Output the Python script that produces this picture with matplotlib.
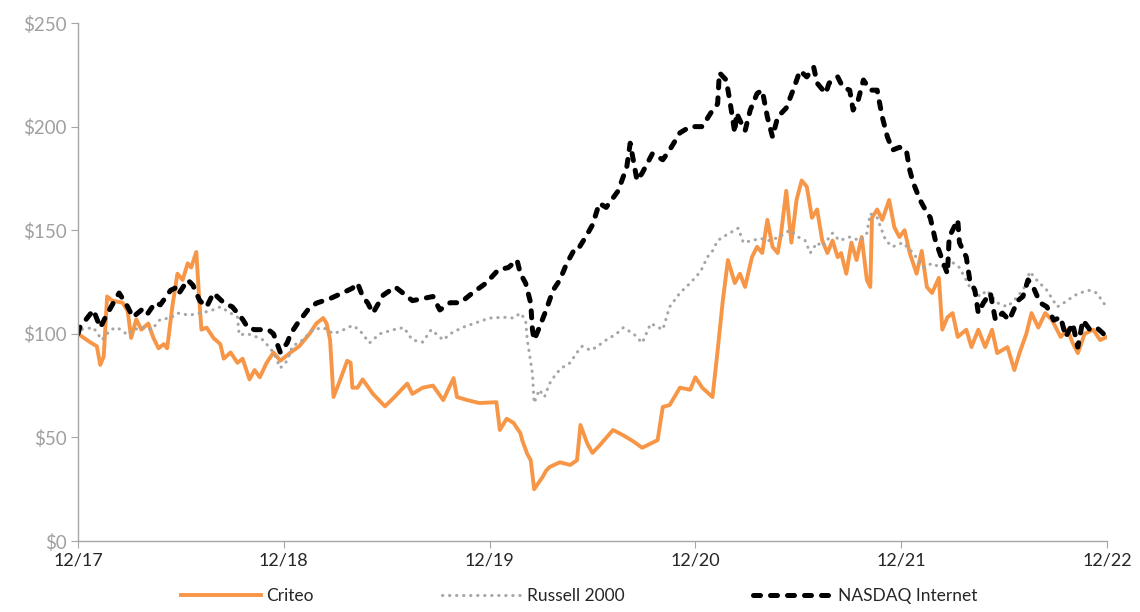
import matplotlib.pyplot as plt

plt.rcParams['font.family'] = ['Lato', 'DejaVu Sans']

# months since 12/17, indexed value ($100 invested)
criteo_m = [0.0, 0.7, 1.1, 1.3, 1.5, 1.7, 2.0, 2.6, 2.9, 3.1, 3.4, 3.7, 4.1, 4.4, 4.7, 5.0, 5.2, 5.5,
            5.8, 6.1, 6.4, 6.6, 6.9, 7.06, 7.2, 7.5, 7.9, 8.3, 8.5, 8.9, 9.3, 9.6, 10.0, 10.3, 10.6,
            11.0, 11.4, 11.8, 12.4, 12.9, 13.5, 13.9, 14.3, 14.5, 14.7, 14.9, 15.3, 15.7, 15.9, 16.0,
            16.3, 16.6, 17.2, 17.9, 18.4, 19.2, 19.5, 20.1, 20.7, 21.3, 21.9, 22.1, 22.7, 23.4, 24.4,
            24.6, 25.0, 25.4, 25.8, 25.9, 26.2, 26.4, 26.6, 27.1, 27.3, 27.5, 28.1, 28.7, 29.1, 29.3,
            29.7, 30.0, 30.4, 31.2, 31.8, 32.4, 32.9, 33.8, 34.1, 34.5, 35.1, 35.7, 36.0, 36.4, 37.0,
            37.3, 37.6, 37.9, 38.3, 38.6, 38.9, 39.3, 39.6, 39.9, 40.2, 40.5, 40.8, 41.0, 41.3, 41.6,
            41.9, 42.2, 42.5, 42.8, 43.1, 43.4, 43.7, 44.0, 44.3, 44.5, 44.8, 45.1, 45.4, 45.7, 46.0,
            46.2, 46.3, 46.6, 46.9, 47.3, 47.6, 47.9, 48.2, 48.5, 48.9, 49.2, 49.5, 49.8, 50.2, 50.4,
            50.7, 51.0, 51.3, 51.8, 52.1, 52.5, 52.9, 53.3, 53.6, 54.2, 54.6, 54.9, 55.3, 55.6, 56.0,
            56.4, 56.8, 57.3, 57.7, 58.0, 58.3, 58.7, 59.2, 59.6, 60.0]
criteo_v = [100, 96, 94, 85, 89, 118, 116, 115, 111, 98, 107, 102, 105, 98, 93, 95, 93, 113,
            129, 126, 134, 132, 139.5, 118, 102, 103, 98, 95, 88, 91, 86, 88, 78, 82.5, 79,
            86, 91, 87, 91, 94, 100, 105, 107.6, 105, 97, 69.5, 78, 87, 86, 74,
            74, 78, 71, 65, 69, 76, 71, 74, 75, 68, 78.6, 69.5, 68, 66.6, 67,
            53.6, 59, 57, 52, 48.7, 42, 39, 25, 31, 34, 35.7, 38, 36.7, 39, 56,
            47, 42.5, 46, 53.6, 51, 48, 45, 48.7, 64.7, 65.6, 74, 73, 79, 74, 69.5,
            92, 116, 135.6, 124.5, 129, 122.6, 137, 142, 139, 155, 142, 139, 148.6, 169, 144,
            164.6, 174, 171, 156, 160, 145, 139, 145, 137, 139, 129, 144, 135.6, 146.7, 126,
            122.6, 156, 160, 155, 164.6, 151.5, 146.7, 150, 139, 129, 140, 122.6, 119.7, 127, 102,
            108, 110, 98.5, 102, 93.6, 102, 93.6, 102, 90.7, 93.6, 82.5, 90.7, 100, 110, 103,
            110, 106.6, 98.5, 102, 95.6, 90.7, 100, 102, 97, 98.5]

russell_m = [0.0, 0.1, 0.9, 1.4, 1.9, 2.3, 2.9, 3.2, 3.8, 4.3, 4.8, 5.4, 5.8, 6.5, 7.1, 7.7, 8.3,
             8.7, 9.3, 9.4, 9.9, 10.4, 10.8, 11.4, 11.8, 12.2, 12.5, 13.1, 13.7, 14.3, 14.9, 15.5,
             16.0, 16.4, 17.0, 17.6, 18.4, 19.0, 19.5, 20.1, 20.6, 21.3, 21.7, 22.4, 23.3, 24.0,
             24.8, 25.4, 25.8, 26.1, 26.2, 26.5, 26.6, 26.9, 27.2, 27.5, 27.9, 28.3, 28.7, 29.1,
             29.4, 29.9, 30.3, 30.8, 31.4, 31.8, 32.4, 32.9, 33.4, 34.1, 34.5, 35.1, 35.7, 36.3,
             36.7, 37.0, 37.3, 37.6, 38.0, 38.5, 38.8, 39.3, 39.8, 40.3, 40.9, 41.5, 42.0, 42.4,
             42.7, 43.1, 43.4, 44.0, 44.4, 45.0, 45.6, 46.0, 46.2, 46.6, 47.1, 47.5, 48.1, 48.7,
             49.3, 49.8, 50.3, 50.8, 51.4, 52.0, 52.6, 53.0, 53.6, 54.2, 54.8, 55.2, 55.5, 55.9,
             56.5, 57.1, 57.7, 58.0, 58.4, 59.0, 59.4, 59.8, 60.0]
russell_v = [100, 102, 103, 97, 102, 103, 99.5, 102, 103, 102, 107, 107.6, 110, 109, 110, 111, 113,
             111, 108, 99.5, 100, 98.5, 97, 91, 83.5, 87, 94, 97, 102, 103, 100, 102,
             104, 102, 95.6, 100, 102, 103, 97, 96, 102, 97, 100, 103, 105.6, 107.6,
             108, 107.6, 110, 106.6, 97, 81, 66.6, 73, 69.5, 76, 81, 84, 86, 91,
             94, 92, 94, 97, 100, 103, 100, 95.6, 105, 102, 113, 119.7, 124.5, 130,
             137, 140, 145, 146.7, 148.6, 151, 144, 145, 146, 145, 146.7, 150, 146.7, 145,
             139, 144, 142, 148.6, 145, 146.7, 145, 148.6, 158, 156, 145, 142, 144, 139,
             132, 134, 132, 135.6, 132, 122.6, 118, 121, 115, 113, 118, 122.6, 130, 126,
             121, 113, 116, 118, 119.7, 121, 119.7, 115, 112.5]

nasdaq_m = [0.0, 0.1, 0.9, 1.3, 1.6, 2.0, 2.4, 2.9, 3.2, 3.7, 4.0, 4.5, 4.8, 5.4, 5.8, 5.9, 6.4,
            6.7, 7.1, 7.5, 7.9, 8.5, 9.0, 9.6, 9.9, 10.3, 10.7, 11.1, 11.4, 11.8, 12.2, 12.4, 12.8,
            13.4, 13.9, 14.7, 15.5, 16.0, 16.3, 16.6, 16.9, 17.2, 17.8, 18.5, 19.1, 19.5, 20.1,
            20.7, 21.1, 21.7, 22.3, 23.0, 23.8, 24.5, 25.1, 25.6, 25.8, 26.1, 26.4, 26.5, 26.6,
            26.9, 27.3, 27.7, 28.1, 28.5, 28.9, 29.1, 29.6, 30.0, 30.4, 30.8, 31.5, 32.0, 32.2,
            32.6, 32.9, 33.5, 34.1, 34.5, 35.1, 35.7, 36.4, 36.9, 37.3, 37.4, 37.8, 38.0, 38.3,
            38.4, 38.6, 38.9, 39.2, 39.6, 39.9, 40.2, 40.5, 40.8, 41.3, 41.7, 42.1, 42.5, 42.9,
            43.1, 43.6, 43.8, 44.3, 44.6, 45.0, 45.2, 45.5, 45.8, 46.2, 46.6, 46.9, 47.2, 47.5,
            47.9, 48.3, 48.5, 48.7, 49.1, 49.4, 49.7, 50.0, 50.4, 50.7, 50.8, 51.3, 51.4, 51.8,
            52.0, 52.3, 52.5, 52.8, 53.2, 53.5, 53.9, 54.3, 54.8, 55.1, 55.4, 55.7, 56.1, 56.5,
            56.9, 57.3, 57.6, 58.0, 58.3, 58.6, 59.0, 59.4, 59.8, 60.0]
nasdaq_v = [100, 103, 111.5, 103, 108, 114, 119.7, 113, 108, 111.5, 109, 115, 114, 121, 122.6, 119.7, 126,
            123.5, 116, 113, 119.7, 115, 113, 107, 103, 102, 102, 102, 100, 91, 95.6, 100, 105,
            111.5, 114.8, 117, 120, 122, 124.5, 118, 114.8, 110, 118.7, 122.6, 118.7, 116, 117,
            118, 111.5, 115, 115, 119.7, 124.5, 130.8, 132, 135.6, 129, 124.5, 114.8, 102, 97,
            103, 111.5, 121, 126, 134, 140, 140, 146.7, 152.5, 163, 161, 169, 180.5, 192,
            174, 177.6, 187, 184, 188.7, 197, 200, 200, 206.6, 211, 226, 222.5, 213, 197,
            206.6, 203, 198, 208, 216, 217.6, 204.6, 195, 204.6, 209, 217.6, 227, 224, 228.7,
            221, 216, 221, 224, 219, 217.6, 208, 213, 222.5, 217.6, 217.6, 204.6, 195, 188.7,
            190, 188.7, 179, 173, 164.6, 160, 156, 145, 135.6, 129, 146.7, 155, 144, 137,
            126, 121, 110, 115, 119.7, 106.6, 110, 106.6, 116, 118, 126, 122.6, 115, 113,
            106.6, 108, 98.5, 105, 93.6, 106.6, 102, 103, 100, 97]

tick_months = [0, 12, 24, 36, 48, 60]
tick_labels = ['12/17', '12/18', '12/19', '12/20', '12/21', '12/22']
y_ticks = [0, 50, 100, 150, 200, 250]

fig = plt.figure(figsize=(11.4, 6.12), dpi=100)
ax = fig.add_axes([0.0684, 0.116, 0.9026, 0.8464])

ax.plot(criteo_m, criteo_v, color='#F79646', lw=2.8, label='Criteo', solid_joinstyle='round')
ax.plot(russell_m, russell_v, color='#A6A6A6', lw=2.2, linestyle=(0, (0.1, 2.2)),
        dash_capstyle='round', label='Russell 2000')
ax.plot(nasdaq_m, nasdaq_v, color='black', lw=3.6, linestyle=(0, (1.4, 2.0)),
        dash_capstyle='round', label='NASDAQ Internet')

ax.set_xlim(0, 60)
ax.set_ylim(0, 250)
ax.set_xticks(tick_months)
ax.set_xticklabels(tick_labels)
ax.set_yticks(y_ticks)
ax.set_yticklabels(['${}'.format(v) for v in y_ticks])

for s in ['top', 'right']:
    ax.spines[s].set_visible(False)
for s in ['left', 'bottom']:
    ax.spines[s].set_color('#A6A6A6')
    ax.spines[s].set_linewidth(1.0)

ax.tick_params(axis='x', colors='#A6A6A6', labelcolor='#262626', labelsize=13, length=5, pad=3)
ax.tick_params(axis='y', colors='#A6A6A6', labelcolor='#A0A0A0', labelsize=13.5, length=5, pad=3)

fig.legend(loc='lower center', bbox_to_anchor=(0.508, -0.012), ncol=3, frameon=False,
           fontsize=12.5, handlelength=4.6, columnspacing=7.4, handletextpad=0.3,
           labelcolor='#262626')

fig.savefig('out.png', dpi=100)
